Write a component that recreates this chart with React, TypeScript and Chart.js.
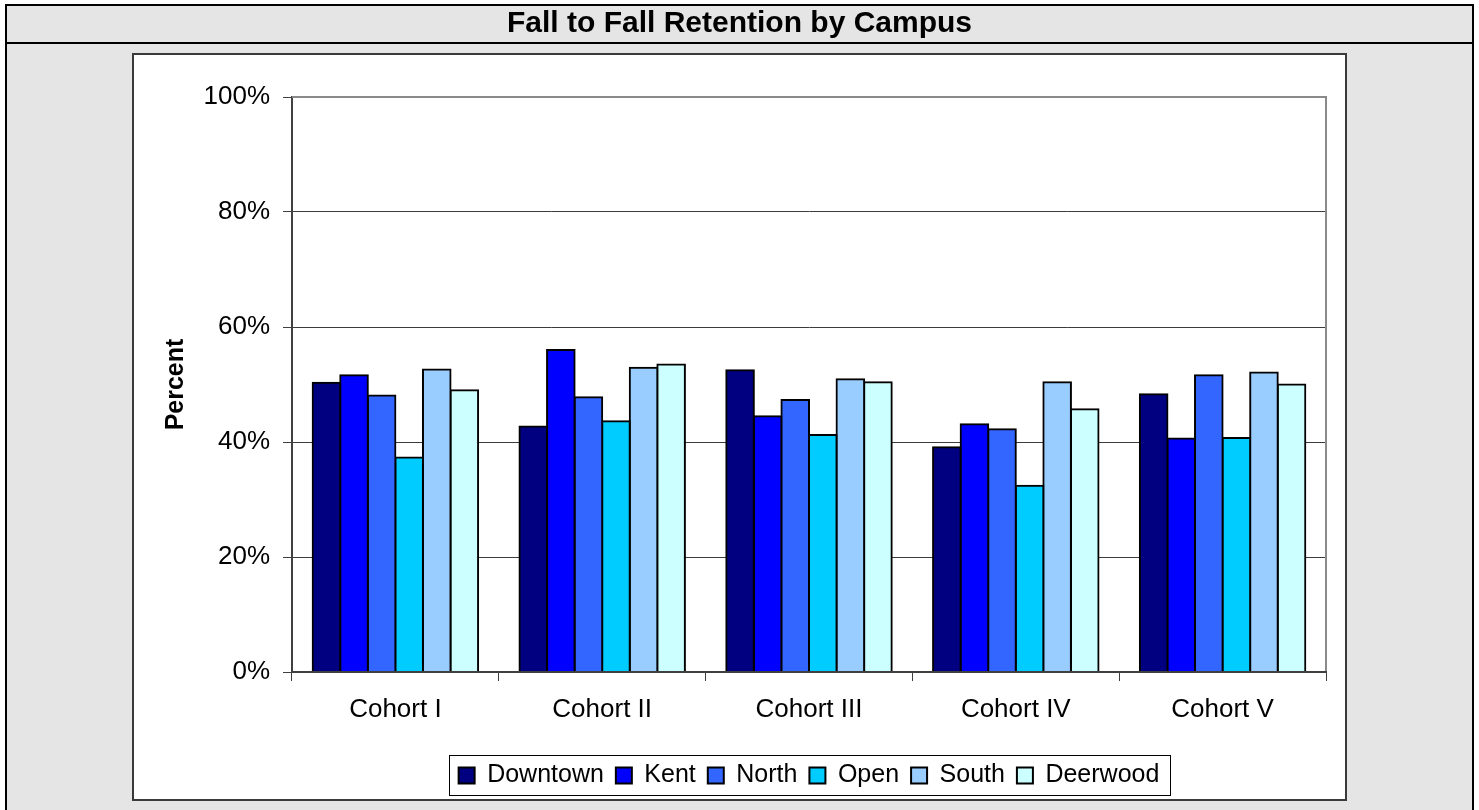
import { useEffect, useRef } from 'react';
import { Chart, registerables } from 'chart.js';

Chart.register(...registerables);

// ---- data ----
const TITLE = 'Fall to Fall Retention by Campus';
const Y_AXIS_TITLE = 'Percent';
const categories = ['Cohort I', 'Cohort II', 'Cohort III', 'Cohort IV', 'Cohort V'];
const seriesNames = ['Downtown', 'Kent', 'North', 'Open', 'South', 'Deerwood'];
const downtown = [50.3, 42.7, 52.5, 39.1, 48.3];
const kent = [51.6, 56.0, 44.5, 43.1, 40.6];
const north = [48.1, 47.8, 47.3, 42.2, 51.6];
const open = [37.3, 43.6, 41.2, 32.4, 40.7];
const south = [52.6, 52.9, 50.9, 50.4, 52.1];
const deerwood = [49.0, 53.5, 50.4, 45.7, 50.0];
const yTickValues = [0, 20, 40, 60, 80, 100];

// ---- styles ----
const seriesColors = ['#000080', '#0000FF', '#3366FF', '#00CCFF', '#99CCFF', '#CCFFFF'];
const FONT = "'Liberation Sans', Arial, Helvetica, sans-serif";

const framePlugin = {
  id: 'frame',
  beforeDraw(chart: any) {
    const ctx = chart.ctx as CanvasRenderingContext2D;
    const W = chart.width;
    const H = chart.height;
    ctx.save();
    ctx.fillStyle = '#ffffff';
    ctx.fillRect(0, 0, W, H);
    ctx.fillStyle = '#e5e5e5';
    ctx.fillRect(6, 5, 1467, H);
    // white chart box
    ctx.fillStyle = '#ffffff';
    ctx.fillRect(133, 54, 1213, 746);
    ctx.strokeStyle = '#3a3a3a';
    ctx.lineWidth = 2;
    ctx.strokeRect(133, 54, 1213, 746);
    // outer frame + header line
    ctx.strokeStyle = '#000000';
    ctx.lineWidth = 2;
    ctx.beginPath();
    ctx.moveTo(6, H + 4);
    ctx.lineTo(6, 5);
    ctx.lineTo(1473, 5);
    ctx.lineTo(1473, H + 4);
    ctx.moveTo(5, 43);
    ctx.lineTo(1474, 43);
    ctx.stroke();
    ctx.restore();
  },
  beforeDatasetsDraw(chart: any) {
    const ctx = chart.ctx as CanvasRenderingContext2D;
    const a = chart.chartArea;
    ctx.save();
    ctx.strokeStyle = '#8a8a8a';
    ctx.lineWidth = 2;
    ctx.beginPath();
    ctx.moveTo(a.left, a.top);
    ctx.lineTo(a.right, a.top);
    ctx.lineTo(a.right, a.bottom);
    ctx.stroke();
    ctx.restore();
  },
  afterDraw(chart: any) {
    const lg = chart.legend;
    if (!lg || !lg.legendHitBoxes || !lg.legendHitBoxes.length) return;
    const hb = lg.legendHitBoxes;
    const first = hb[0];
    const last = hb[hb.length - 1];
    const left = Math.round(first.left - 10);
    const right = Math.round(last.left + last.width + 11);
    const cy = first.top + first.height / 2;
    const top = Math.round(cy - 21);
    const ctx = chart.ctx as CanvasRenderingContext2D;
    ctx.save();
    ctx.strokeStyle = '#000000';
    ctx.lineWidth = 1;
    ctx.strokeRect(left + 0.5, top + 0.5, right - left, 40);
    ctx.restore();
  },
};

export default function App() {
  const ref = useRef<HTMLCanvasElement>(null);

  useEffect(() => {
    if (!ref.current) return;
    const values = [downtown, kent, north, open, south, deerwood];
    const chart = new Chart(ref.current, {
      type: 'bar',
      data: {
        labels: categories,
        datasets: seriesNames.map((name, i) => ({
          label: name,
          data: values[i],
          backgroundColor: seriesColors[i],
          borderColor: '#000000',
          borderWidth: 2,
          inflateAmount: 1,
          categoryPercentage: 0.8,
          barPercentage: 1.0,
        })),
      },
      options: {
        responsive: false,
        animation: false,
        events: [],
        layout: { padding: { left: 153, right: 153, top: 0, bottom: 12 } },
        font: { family: FONT },
        plugins: {
          title: {
            display: true,
            text: TITLE,
            color: '#000000',
            font: { family: FONT, size: 30, weight: 'bold' },
            padding: { top: 6, bottom: 55 },
          },
          legend: {
            display: true,
            position: 'bottom',
            fullSize: false,
            labels: {
              color: '#000000',
              font: { family: FONT, size: 25 },
              boxWidth: 16,
              boxHeight: 16,
              padding: 12,
            },
          },
          tooltip: { enabled: false },
        },
        scales: {
          x: {
            type: 'category',
            offset: true,
            grid: {
              display: true,
              offset: true,
              drawOnChartArea: false,
              drawTicks: true,
              tickLength: 9,
              color: '#404040',
              lineWidth: 1,
            },
            border: { display: true, color: '#404040', width: 2, z: 1 },
            ticks: {
              color: '#000000',
              font: { family: FONT, size: 26 },
              padding: 13,
              maxRotation: 0,
              autoSkip: false,
            },
            afterFit: (scale: any) => {
              scale.height = 79;
            },
          },
          y: {
            type: 'linear',
            min: yTickValues[0],
            max: yTickValues[yTickValues.length - 1],
            afterBuildTicks: (scale: any) => {
              scale.ticks = yTickValues.map((v) => ({ value: v }));
            },
            grid: {
              color: '#3c3c3c',
              lineWidth: 1,
              drawTicks: true,
              tickLength: 9,
              tickColor: '#404040',
            },
            border: { display: true, color: '#404040', width: 2 },
            ticks: {
              color: '#000000',
              font: { family: FONT, size: 26 },
              padding: 13,
              callback: (v: any) => `${v}%`,
            },
            title: {
              display: true,
              text: Y_AXIS_TITLE,
              color: '#000000',
              font: { family: FONT, size: 25, weight: 'bold' },
              padding: { top: 8, bottom: 0 },
            },
            afterFit: (scale: any) => {
              scale.width = 139;
            },
          },
        },
      },
      plugins: [framePlugin],
    } as any);
    return () => chart.destroy();
  }, []);

  return (
    <div style={{ position: 'absolute', left: 0, top: 0, width: 1479, height: 810 }}>
      <canvas ref={ref} width={1479} height={810} style={{ display: 'block' }} />
    </div>
  );
}
